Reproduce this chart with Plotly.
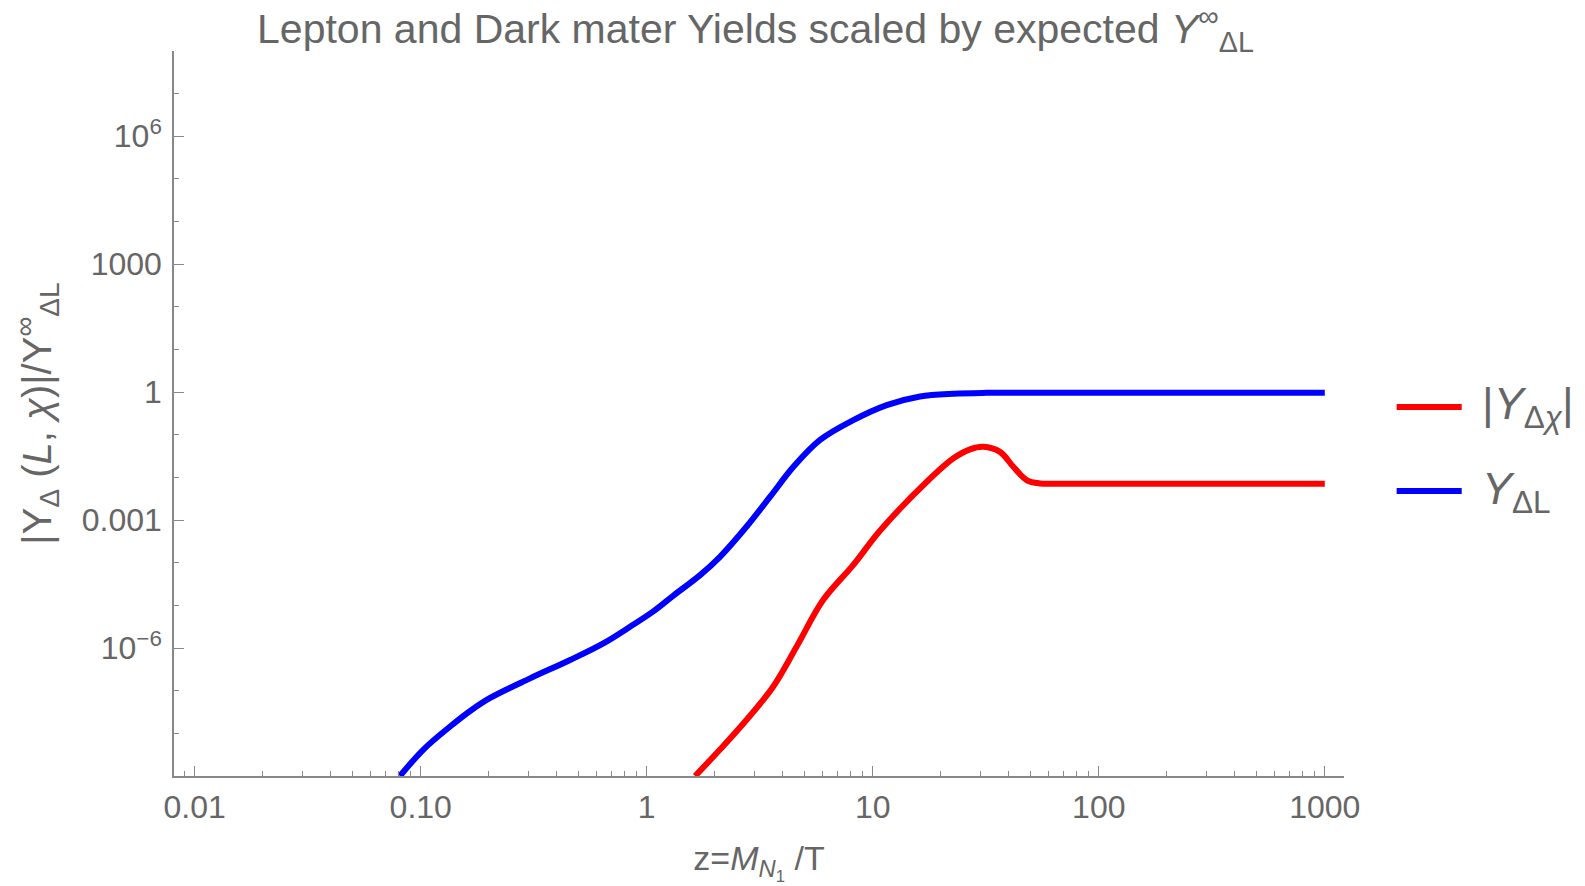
import plotly.graph_objects as go

# ---- data (z = M_N1/T, scaled yields) ----
blue_z = [0.0809, 0.1028, 0.1349, 0.166, 0.2028, 0.3048, 0.4581, 0.6427, 0.8433, 1.069,
          1.312, 1.722, 2.109, 2.767, 3.516, 4.457, 5.848, 8.204, 11.53, 16.18, 22.75,
          31.92, 63.1, 124, 1000]
blue_y = [1e-9, 4.17e-9, 1.445e-8, 3.39e-8, 6.76e-8, 1.95e-7, 5.25e-7, 1.288e-6, 3.16e-6,
          7.24e-6, 1.70e-5, 5.13e-5, 1.38e-4, 7.08e-4, 3.55e-3, 0.0178, 0.0759, 0.221,
          0.497, 0.794, 0.923, 0.964, 0.968, 0.968, 0.968]

red_z = [1.637, 2.109, 2.767, 3.631, 4.613, 6.039, 8.204, 10.76, 17.34, 22.75,
         26.92, 30.83, 36.56, 41.88, 47.97, 54.95, 67.45, 124, 1000]
red_y = [1e-9, 4.17e-9, 2.09e-8, 1.26e-7, 1.10e-6, 1.35e-5, 8.9e-5, 5.62e-4,
         7.94e-3, 0.0282, 0.0457, 0.0525, 0.0398, 0.0178, 0.0087, 0.00724, 0.00716,
         0.00716, 0.00716]

x_tickvals = [0.01, 0.1, 1, 10, 100, 1000]
x_ticktext = ["0.01", "0.10", "1", "10", "100", "1000"]
y_tickvals = [1e-6, 1e-3, 1, 1e3, 1e6]
y_ticktext = ["10<sup>−6</sup>", "0.001", "1", "1000", "10<sup>6</sup>"]

series_names = ["|<i>Y</i><sub>Δ<i>χ</i></sub>|", "<i>Y</i><sub>ΔL</sub>"]
series_colors = ["#ff0000", "#0000ff"]

title_text = "Lepton and Dark mater Yields scaled by expected <i>Y</i><sup>∞</sup><sub>ΔL</sub>"
x_title = "z=<i>M</i><sub><i>N</i><sub>1</sub></sub> /T"
y_title = "|Y<sub>Δ</sub> (<i>L</i>, <i>χ</i>)|/Y<sup>∞</sup><sub>ΔL</sub>"

FONT = "Liberation Sans, Arial, sans-serif"
GREY = "#666666"
AXIS = "#888888"

W, H = 1585, 886

x_minor = [k * 10.0 ** e for e in range(-3, 4) for k in range(2, 10)]
y_minor = [10.0 ** e for e in range(-8, 9) if e % 3 != 0]

fig = go.Figure()
fig.add_trace(go.Scatter(x=blue_z, y=blue_y, mode="lines", name=series_names[1],
                         line=dict(color=series_colors[1], width=6, shape="spline", smoothing=1.0),
                         showlegend=False))
fig.add_trace(go.Scatter(x=red_z, y=red_y, mode="lines", name=series_names[0],
                         line=dict(color=series_colors[0], width=6, shape="spline", smoothing=1.0),
                         showlegend=False))

# manual legend (long swatches as in the reference)
leg_y = [0.509, 0.393]
for i in range(2):
    fig.add_shape(type="line", xref="paper", yref="paper", x0=1.045, x1=1.1006,
                  y0=leg_y[i], y1=leg_y[i], line=dict(color=series_colors[i], width=6))
    fig.add_annotation(xref="paper", yref="paper", x=1.116, y=leg_y[i], xanchor="left",
                       yanchor="middle", text=series_names[i], showarrow=False,
                       font=dict(family=FONT, size=45, color=GREY))

fig.update_layout(
    width=W, height=H,
    margin=dict(l=174, r=241, t=51, b=110, autoexpand=False),
    paper_bgcolor="white", plot_bgcolor="white",
    font=dict(family=FONT, color=GREY),
    title=dict(text=title_text, x=0.497, xref="paper", y=1 - 29 / H, yref="container",
               xanchor="center", yanchor="middle", automargin=False,
               font=dict(family=FONT, size=41, color=GREY)),
    xaxis=dict(type="log", range=[-2.0916, 3.085], showgrid=False, zeroline=False,
               automargin=False,
               showline=True, linecolor=AXIS, linewidth=1.5, mirror=False,
               tickmode="array", tickvals=x_tickvals, ticktext=x_ticktext,
               ticks="inside", ticklen=10, tickwidth=1.3, tickcolor=AXIS,
               ticklabelstandoff=2,
               tickfont=dict(family=FONT, size=32, color=GREY),
               minor=dict(tickmode="array", tickvals=x_minor, ticks="inside", ticklen=5,
                          tickwidth=1, tickcolor=AXIS, showgrid=False),
               title=dict(text=x_title, font=dict(family=FONT, size=34, color=GREY), standoff=24)),
    yaxis=dict(type="log", range=[-9, 8], showgrid=False, zeroline=False,
               automargin=False,
               showline=True, linecolor=AXIS, linewidth=1.5, mirror=False,
               tickmode="array", tickvals=y_tickvals, ticktext=y_ticktext,
               ticks="inside", ticklen=10, tickwidth=1.3, tickcolor=AXIS,
               ticklabelstandoff=4,
               tickfont=dict(family=FONT, size=32, color=GREY),
               minor=dict(tickmode="array", tickvals=y_minor, ticks="inside", ticklen=5,
                          tickwidth=1, tickcolor=AXIS, showgrid=False),
               title=dict(text=y_title, font=dict(family=FONT, size=40, color=GREY), standoff=18)),
)

# remove the default page margin so the 1585x886 figure fills the window exactly
fig.write_html("out.html", config={"displayModeBar": False},
               post_script="document.body.style.margin='0';document.body.style.overflow='hidden';")
